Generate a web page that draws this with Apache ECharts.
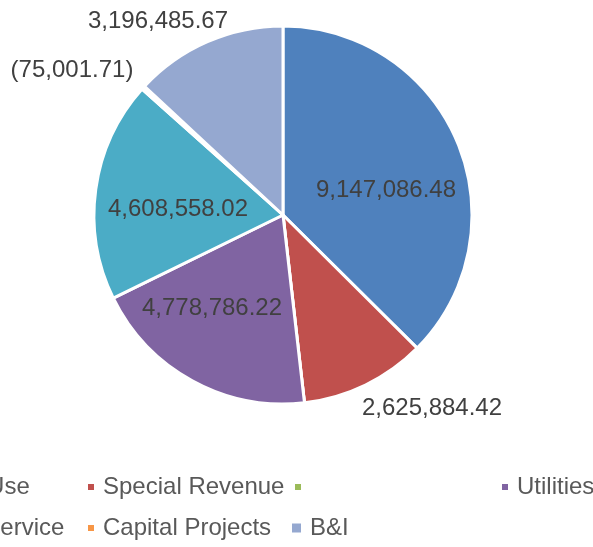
<!DOCTYPE html>
<html>
<head>
<meta charset="utf-8">
<script src="https://cdn.jsdelivr.net/npm/echarts@6/dist/echarts.min.js"></script>
<style>
  html, body { margin: 0; padding: 0; background: #fff; }
  #chart { width: 593px; height: 547px; }
</style>
</head>
<body>
<div id="chart"></div>
<script>
// 数据
const categories = ['Land Use', 'Special Revenue', ' ', 'Utilities', 'Debt Service', 'Capital Projects', 'B&I']
const values = [9147086.48, 2625884.42, 0, 4778786.22, 4608558.02, -75001.71, 3196485.67]
const colors = ['#4F81BD', '#C0504D', '#9BBB59', '#8064A2', '#4BACC6', '#F79646', '#95A8D0']

// 标签相对圆心的偏移
const labelOffsets = [[103, -25], [149, 193], [0, 0], [-71, 93], [-105, -6], [-211, -145], [-125, -194]]
// 图例位置 [left, top]
const legendPos = [[-90, 473], [86, 473], [293, 473], [500, 473], [-90, 514], [86, 514], [290, 514]]

const cx = 283
const cy = 215
const font = "'Liberation Sans', Arial, sans-serif"

const fmt = v => {
  const s = Math.abs(v).toLocaleString('en-US', { minimumFractionDigits: 2, maximumFractionDigits: 2 })
  return v < 0 ? '(' + s + ')' : s
}

const chart = echarts.init(document.getElementById('chart'))

const legends = categories.map((name, i) => {
  const big = name === 'B&I'
  return {
    data: [{ name: name, itemStyle: { color: colors[i] } }],
    left: legendPos[i][0],
    top: legendPos[i][1],
    padding: 0,
    icon: 'rect',
    itemWidth: big ? 11 : 8,
    itemHeight: big ? 11 : 8,
    selectedMode: false,
    textStyle: { fontFamily: font, fontSize: 24, color: '#595959', lineHeight: 28, padding: [0, 0, 0, 3] }
  }
})

chart.setOption({
  animation: false,
  legend: legends,
  series: [{
    type: 'pie',
    center: [cx, cy],
    radius: 189,
    startAngle: 90,
    clockwise: true,
    avoidLabelOverlap: false,
    itemStyle: { borderColor: '#fff', borderWidth: 3 },
    label: {
      show: true,
      position: 'inside',
      fontFamily: font,
      fontSize: 24,
      color: '#404040',
      formatter: p => fmt(values[p.dataIndex])
    },
    labelLine: { show: false },
    labelLayout: p => ({
      x: cx + labelOffsets[p.dataIndex][0],
      y: cy + labelOffsets[p.dataIndex][1],
      align: 'center',
      verticalAlign: 'middle'
    }),
    emphasis: { disabled: true },
    data: categories.map((name, i) => ({
      name: name,
      value: Math.abs(values[i]),
      itemStyle: { color: values[i] < 0 ? '#fff' : colors[i] },
      label: { show: values[i] !== 0 }
    }))
  }]
})
</script>
</body>
</html>
